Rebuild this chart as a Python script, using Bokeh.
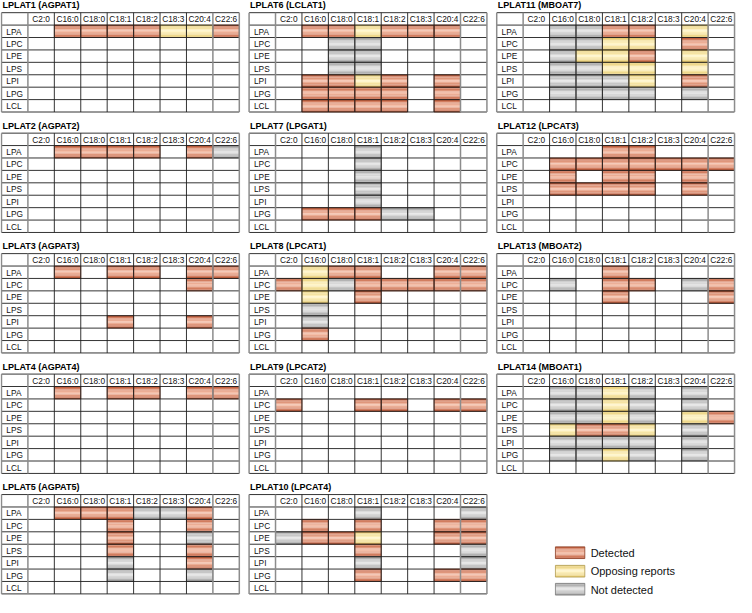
import numpy as np
from bokeh.plotting import figure
from bokeh.models import Range1d, ColumnDataSource
from bokeh.core.properties import value
from bokeh.embed import file_html
from bokeh.resources import INLINE

# ---------------- data ----------------
fatty_acids = ["C2:0", "C16:0", "C18:0", "C18:1", "C18:2", "C18:3", "C20:4", "C22:6"]
lipid_classes = ["LPA", "LPC", "LPE", "LPS", "LPI", "LPG", "LCL"]
panel_titles = ["LPLAT1 (AGPAT1)", "LPLAT2 (AGPAT2)", "LPLAT3 (AGPAT3)", "LPLAT4 (AGPAT4)",
                "LPLAT5 (AGPAT5)", "LPLAT6 (LCLAT1)", "LPLAT7 (LPGAT1)", "LPLAT8 (LPCAT1)",
                "LPLAT9 (LPCAT2)", "LPLAT10 (LPCAT4)", "LPLAT11 (MBOAT7)", "LPLAT12 (LPCAT3)",
                "LPLAT13 (MBOAT2)", "LPLAT14 (MBOAT1)"]
legend_codes = ["D", "Y", "N"]
legend_labels = ["Detected", "Opposing reports", "Not detected"]

# codes per cell: D = detected, Y = opposing reports, N = not detected, - = no data
# one string per lipid class (LPA..LCL), one character per fatty acid (C2:0..C22:6)
lplat1 = ["-DDDDYYD", "--------", "--------", "--------", "--------", "--------", "--------"]
lplat2 = ["-DDDD-DN", "--------", "--------", "--------", "--------", "--------", "--------"]
lplat3 = ["-D-DD-DD", "------D-", "--------", "--------", "---D--D-", "--------", "--------"]
lplat4 = ["-D-DD-DD", "--------", "--------", "--------", "--------", "--------", "--------"]
lplat5 = ["-DDDNND-", "---D--D-", "---D--N-", "---D--D-", "---N--D-", "---N--N-", "--------"]
lplat6 = ["-DDYDDD-", "--NN----", "--NN----", "--NN----", "-DDYD-D-", "-DDDD-D-", "-DDDD-D-"]
lplat7 = ["---N----", "---N----", "---N----", "---N----", "---N----", "-DDDNN--", "--------"]
lplat8 = ["-YDD--DD", "DYNDDDDD", "-Y-D----", "-N------", "-N------", "-D------", "--------"]
lplat9 = ["--------", "D--DD-DD", "--------", "--------", "--------", "--------", "--------"]
lplat10 = ["---N---N", "-D-D--DD", "NDDY--DD", "---D---N", "---N---N", "---D--DD", "--------"]
lplat11 = ["-NNDD-Y-", "-NNYY-D-", "-NYYD-Y-", "-NNYY-Y-", "-NNNY-D-", "-NNNN-N-", "--------"]
lplat12 = ["---DD---", "-DDDDDDD", "-D-DD-D-", "-DDDD-D-", "--------", "--------", "--------"]
lplat13 = ["---D----", "-N-DD-ND", "---D---D", "--------", "--------", "--------", "--------"]
lplat14 = ["-NNYN-N-", "-NNYN-N-", "-NNYN-YD", "-YDDY-N-", "-NNNN-N-", "-NNYN-N-", "--------"]

panel_data = [lplat1, lplat2, lplat3, lplat4, lplat5, lplat6, lplat7,
              lplat8, lplat9, lplat10, lplat11, lplat12, lplat13, lplat14]

# ---------------- styles / layout ----------------
EDGE = {"D": (188, 84, 50), "Y": (228, 198, 100), "N": (148, 148, 148)}
CENTER = {"D": (244, 190, 168), "Y": (255, 245, 200), "N": (228, 228, 228)}
OUTLINE = {"D": "#8a3e24", "Y": "#b09a50", "N": "#7a7a7a"}
N_STRIPS = 9
SHADE_EXP = 1.2

COL_PITCH = 253.0
ROW_PITCH = 123.7
X0 = 1.0
TITLE_Y = 5.0
TABLE_Y = 12.5
LABEL_W = 27.0
CELL_W = 27.0
CELL_H = 12.75
FONT = "Liberation Sans"


def mix(c0, c1, f):
    r = [int(round(a + (b - a) * f)) for a, b in zip(c0, c1)]
    return "#%02x%02x%02x" % tuple(r)


def shaded_cell(L, R, T, H, code, out, box):
    for i in range(N_STRIPS):
        t = (i + 0.5) / N_STRIPS
        f = 1 - abs(2 * t - 1) ** SHADE_EXP
        out["left"].append(L)
        out["right"].append(R)
        out["top"].append(T + H * i / N_STRIPS)
        out["bottom"].append(T + H * (i + 1) / N_STRIPS)
        out["color"].append(mix(EDGE[code], CENTER[code], f))
    box["left"].append(L)
    box["right"].append(R)
    box["top"].append(T)
    box["bottom"].append(T + H)
    box["color"].append(OUTLINE[code])


p = figure(width=736, height=597, output_backend="svg", toolbar_location=None,
           x_range=Range1d(0, 752), y_range=Range1d(613, 0), min_border=0)
p.axis.visible = False
p.grid.visible = False
p.outline_line_color = None
p.background_fill_color = "white"

cells = {"left": [], "right": [], "top": [], "bottom": [], "color": []}
boxes = {"left": [], "right": [], "top": [], "bottom": [], "color": []}
segs = {"x0": [], "y0": [], "x1": [], "y1": [], "color": [], "w": []}
hdr = {"x": [], "y": [], "t": []}
lab = {"x": [], "y": [], "t": []}
ttl = {"x": [], "y": [], "t": []}

n_cols = len(fatty_acids)
n_rows = len(lipid_classes)
for k, (title, mat) in enumerate(zip(panel_titles, panel_data)):
    col, row = divmod(k, 5)
    px = X0 + col * COL_PITCH
    py = row * ROW_PITCH
    ty = py + TABLE_Y
    ttl["x"].append(px + 1)
    ttl["y"].append(py + TITLE_Y)
    ttl["t"].append(title)
    for r, line in enumerate(mat):
        for c, code in enumerate(line):
            if code in EDGE:
                L = px + LABEL_W + c * CELL_W
                shaded_cell(L, L + CELL_W, ty + (r + 1) * CELL_H, CELL_H, code, cells, boxes)
    right = px + LABEL_W + n_cols * CELL_W
    bottom = ty + (n_rows + 1) * CELL_H
    for r in range(n_rows + 2):
        y = ty + r * CELL_H
        segs["x0"].append(px); segs["x1"].append(right)
        segs["y0"].append(y); segs["y1"].append(y)
        segs["color"].append("#1e1e1e"); segs["w"].append(0.9)
    xs = [px] + [px + LABEL_W + c * CELL_W for c in range(n_cols + 1)]
    for i, x in enumerate(xs):
        gray = i in (0, 1, n_cols, n_cols + 1)
        segs["x0"].append(x); segs["x1"].append(x)
        segs["y0"].append(ty); segs["y1"].append(bottom)
        segs["color"].append("#8c8c8c" if gray else "#1e1e1e")
        segs["w"].append(1.5 if gray else 0.9)
    for c, fa in enumerate(fatty_acids):
        hdr["x"].append(px + LABEL_W + (c + 0.5) * CELL_W)
        hdr["y"].append(ty + 0.5 * CELL_H + 0.3)
        hdr["t"].append(fa)
    for r, lc in enumerate(lipid_classes):
        lab["x"].append(px + 5)
        lab["y"].append(ty + (r + 1.5) * CELL_H + 0.3)
        lab["t"].append(lc)

# legend
LEG_X = 567.0
LEG_Y = [561.0, 580.0, 598.5]
LEG_W = 30.0
LEG_H = 12.0
leg_txt = {"x": [], "y": [], "t": []}
for code, lbl, y in zip(legend_codes, legend_labels, LEG_Y):
    shaded_cell(LEG_X, LEG_X + LEG_W, y, LEG_H, code, cells, boxes)
    leg_txt["x"].append(LEG_X + LEG_W + 6)
    leg_txt["y"].append(y + LEG_H / 2 + 0.3)
    leg_txt["t"].append(lbl)

p.quad(left="left", right="right", top="top", bottom="bottom", fill_color="color",
       line_color=None, source=ColumnDataSource(cells))
p.quad(left="left", right="right", top="top", bottom="bottom", fill_color=None,
       line_color="color", line_width=0.8, source=ColumnDataSource(boxes))

p.segment(x0="x0", y0="y0", x1="x1", y1="y1", line_color="color", line_width="w",
          source=ColumnDataSource(segs))

p.text(x="x", y="y", text="t", source=ColumnDataSource(hdr), text_font=value(FONT),
       text_font_size=value("8.3px"), text_align="center", text_baseline="middle", text_color="#111111")
p.text(x="x", y="y", text="t", source=ColumnDataSource(lab), text_font=value(FONT),
       text_font_size=value("8.3px"), text_align="left", text_baseline="middle", text_color="#111111")
p.text(x="x", y="y", text="t", source=ColumnDataSource(ttl), text_font=value(FONT),
       text_font_size=value("9px"), text_font_style="bold", text_align="left",
       text_baseline="middle", text_color="#000000")
p.text(x="x", y="y", text="t", source=ColumnDataSource(leg_txt), text_font=value(FONT),
       text_font_size=value("11px"), text_align="left", text_baseline="middle", text_color="#111111")

open("out.html", "w").write(file_html(p, INLINE))
